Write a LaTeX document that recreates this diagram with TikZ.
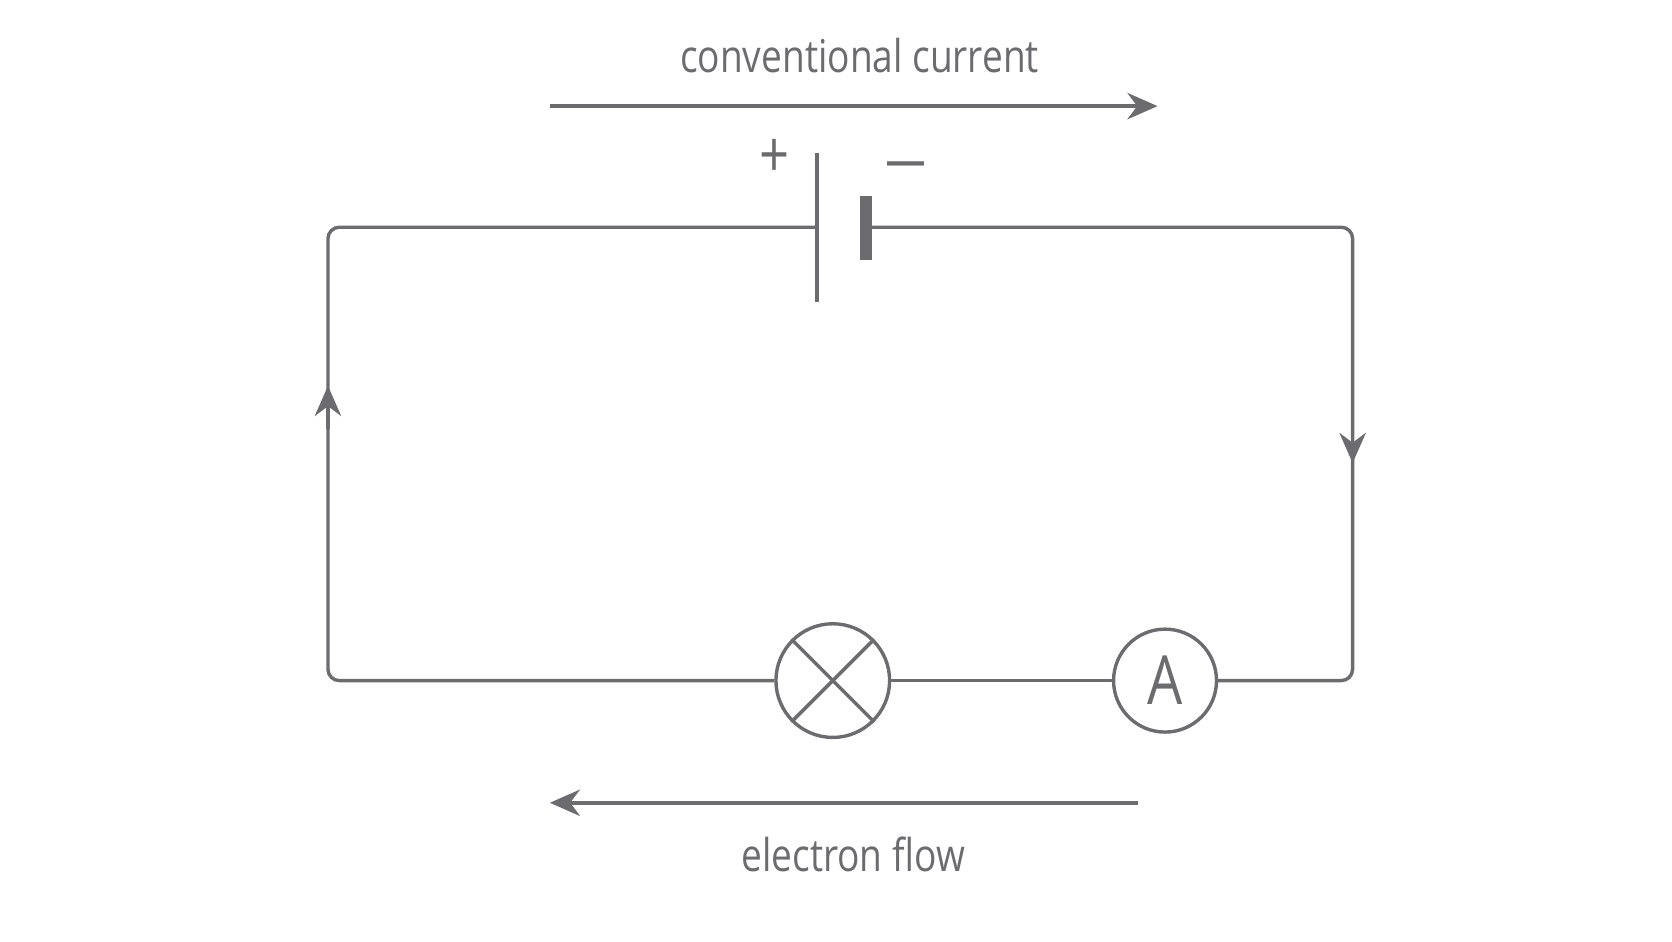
\documentclass[tikz,border=0pt]{standalone}
\usepackage{fontspec}
\setmainfont[FakeStretch=0.82]{Open Sans}
\usetikzlibrary{arrows.meta, positioning}
\definecolor{wiregray}{RGB}{108,108,112}
\tikzset{
    wire/.style={draw=wiregray, line width=0.9pt, rounded corners=3pt},
    flow/.style={draw=wiregray, line width=1pt, -{Stealth[length=8pt, width=7pt]}},
    meter/.style={circle, draw=wiregray, line width=0.9pt, minimum size=1.0cm, inner sep=0pt},
    label/.style={text=wiregray, font=\fontsize{12}{14}\selectfont}
}
\begin{document}
\begin{tikzpicture}[x=0.01cm, y=-0.01cm]
    \useasboundingbox (0,0) rectangle (1560,878);

    % Components
    \coordinate (pos) at (762,212);
    \coordinate (neg) at (813,212);
    \node (lamp) [meter, minimum size=1.06cm] at (777,635) {};
    \node (amm) [meter, minimum size=0.96cm, text=wiregray, font=\fontsize{18}{20}\selectfont] at (1087,635) {A};

    % Battery plates
    \draw [draw=wiregray, line width=1.1pt] (762,143) -- (762,282);
    \draw [draw=wiregray, line width=3pt] (808,183) -- (808,243);
    \node (plus) [text=wiregray, font=\fontsize{17}{18}\selectfont] at (723,148) {+};
    \node (minus) [text=wiregray, font=\fontsize{17}{18}\selectfont, xscale=1.5] at (845,162) {\textminus};

    % Lamp cross
    \draw [wire] (lamp.north west) -- (lamp.south east);
    \draw [wire] (lamp.north east) -- (lamp.south west);

    % Wires
    \draw [wire] (pos) -- (306,212) -- (306,635) -- (lamp.west);
    \draw [wire] (lamp.east) -- (amm.west);
    \draw [wire] (amm.east) -- (1262,635) -- (1262,212) -- (neg);

    % Direction marks on wires
    \draw [flow, line width=0.9pt] (306,400) -- (306,360);
    \draw [flow, line width=0.9pt] (1262,390) -- (1262,432);

    % Flow arrows
    \coordinate (cc start) at (513,99);
    \coordinate (cc end) at (1080,99);
    \coordinate (ef start) at (1062,749);
    \coordinate (ef end) at (513,749);
    \draw [flow] (cc start) -- (cc end);
    \draw [flow] (ef start) -- (ef end);
    \node (cc) [label] at (802,52) {conventional current};
    \node (ef) [label] at (796,797) {electron flow};
\end{tikzpicture}
\end{document}
